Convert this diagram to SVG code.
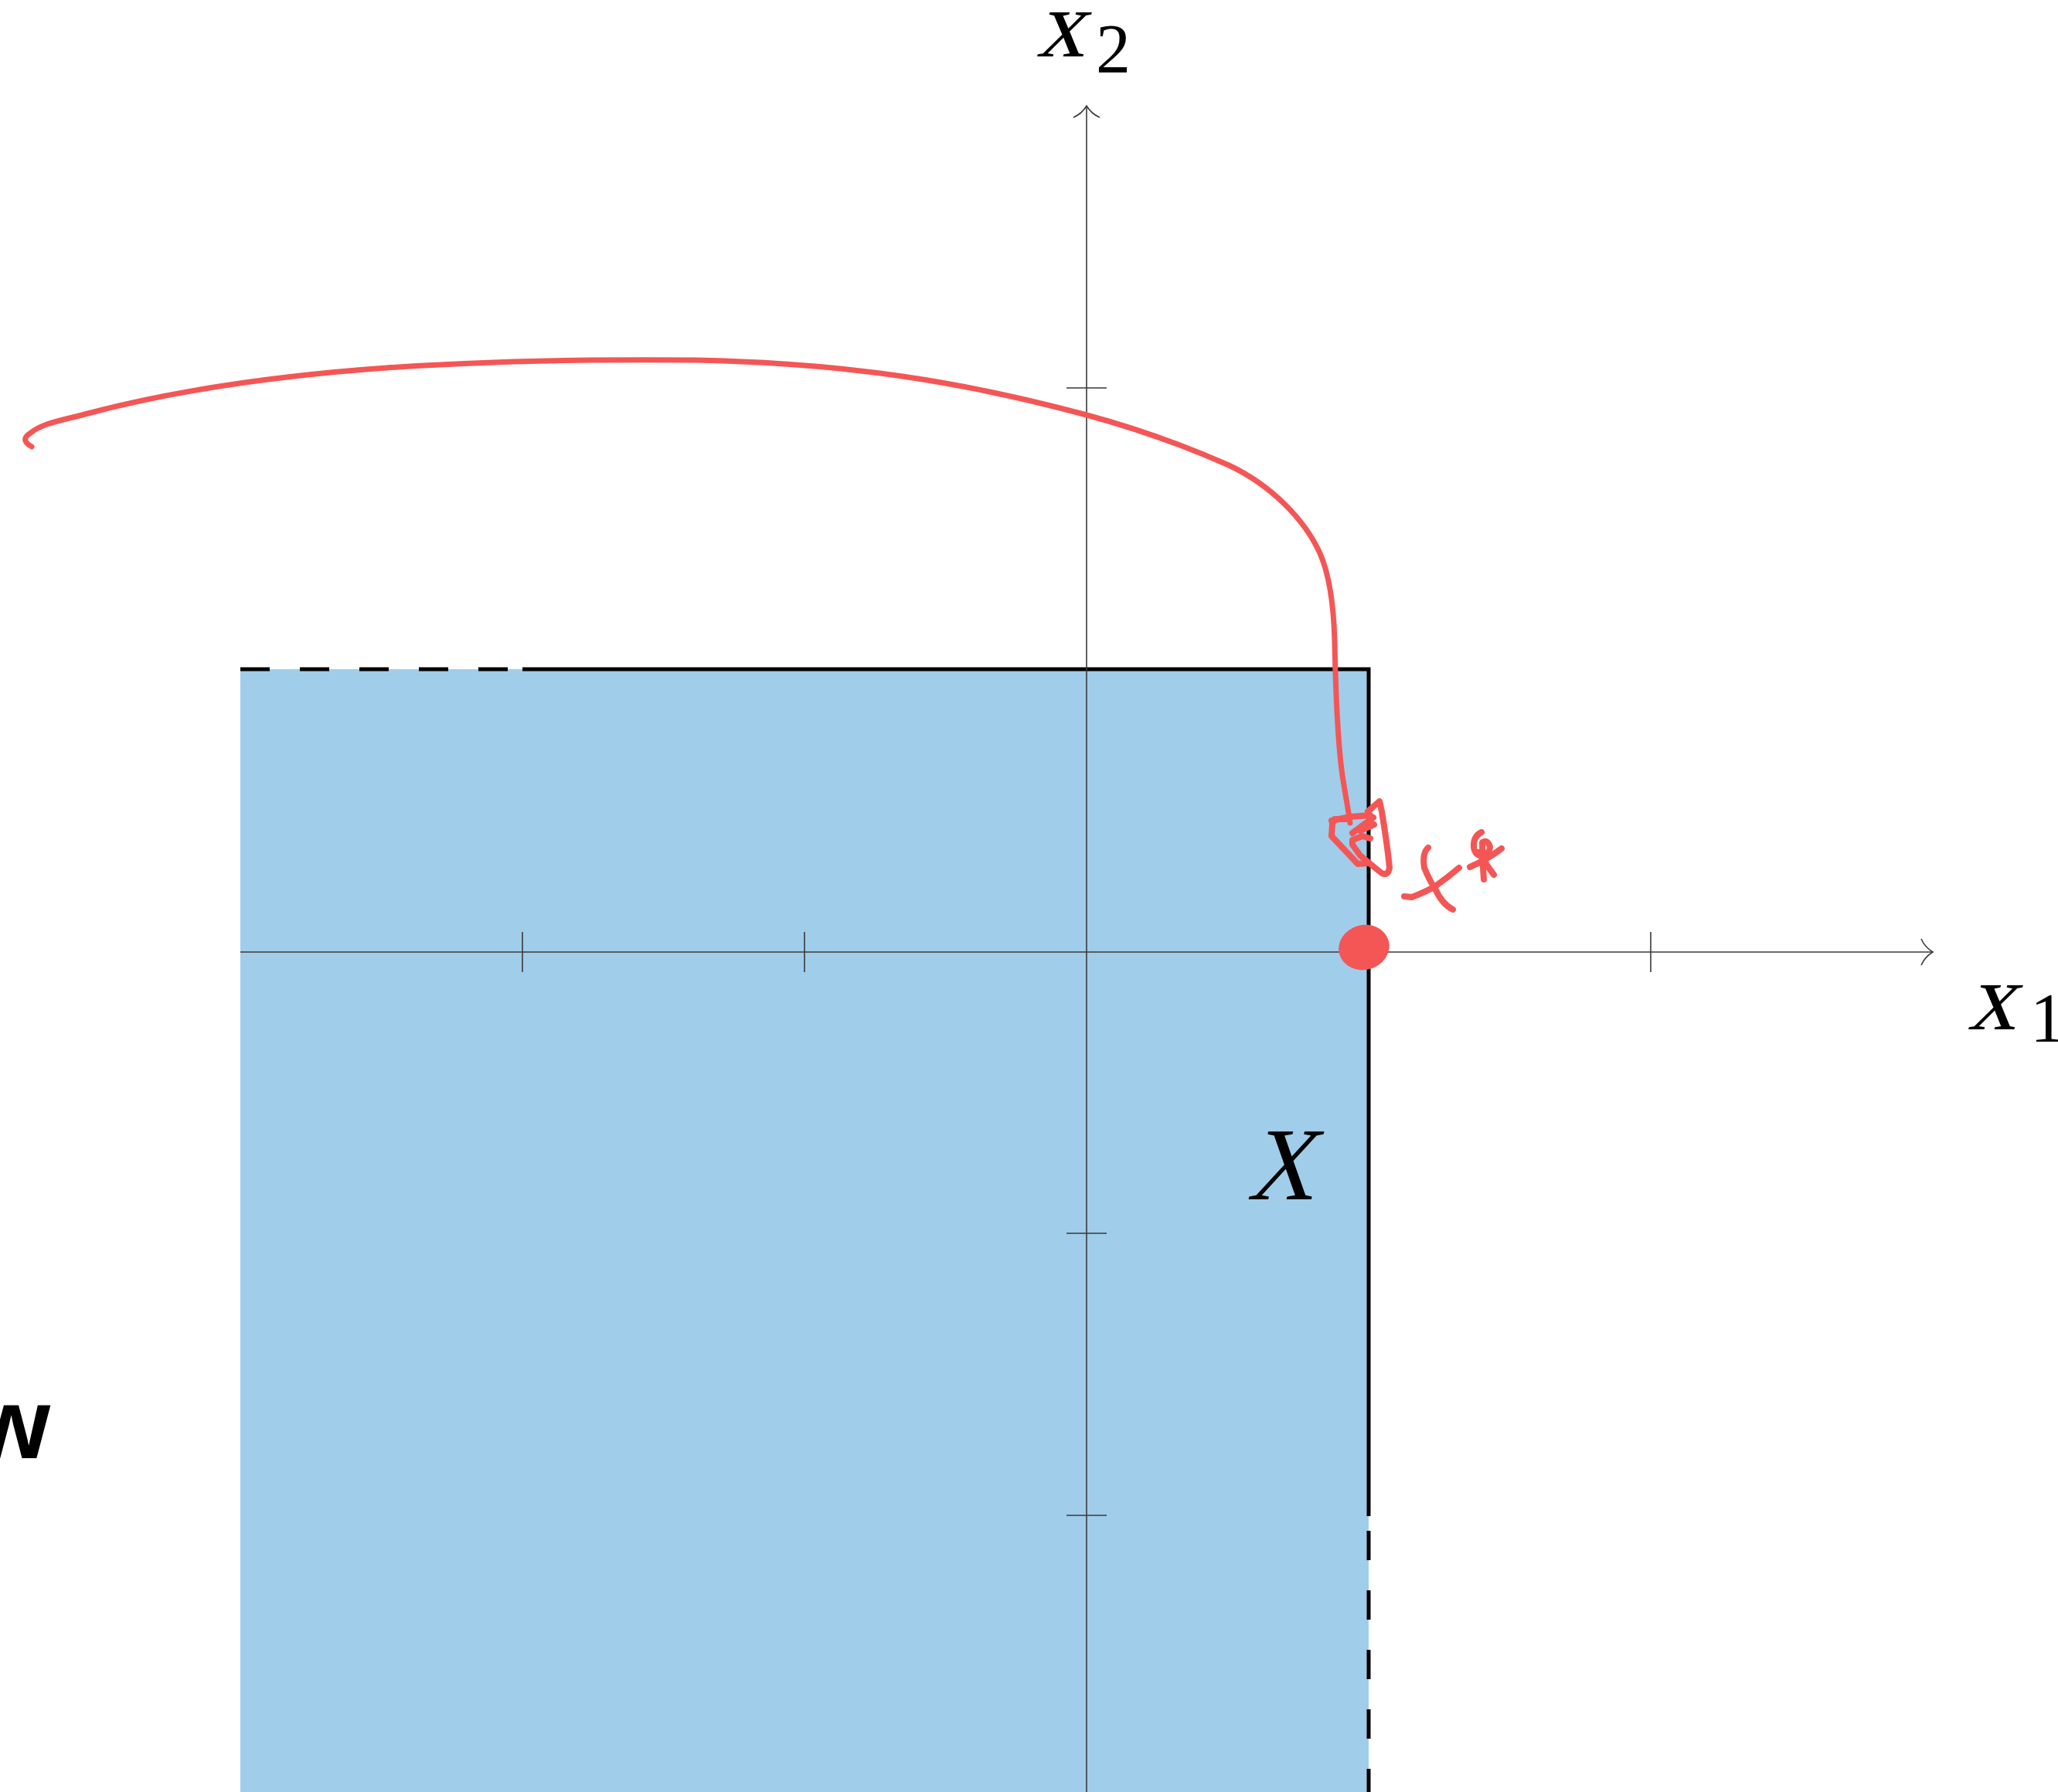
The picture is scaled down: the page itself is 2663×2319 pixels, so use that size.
<svg xmlns="http://www.w3.org/2000/svg" width="2663" height="2319" viewBox="0 0 2663 2319">
<style>
.axis{stroke:#3a3a3a;stroke-width:1.6;fill:none}
.edge{stroke:#000;stroke-width:5;fill:none}
.dash{stroke-dasharray:38 39}
.ink{stroke:#f45656;fill:none;stroke-linecap:round;stroke-linejoin:round}
.math{font-family:"Liberation Serif","Times New Roman",serif;fill:#000}
</style>
<rect width="2663" height="2319" fill="#fff"/>
<g id="region-X">
<rect x="311" y="866" width="1460" height="1453" fill="#a0cdea"/>
<path class="edge" d="M676 866 H1771 V1962"/>
<path class="edge dash" d="M657 866 H311"/>
<path class="edge dash" d="M1771 1981 V2319"/>
<text class="math" transform="translate(1613 1552) skewX(-14)" x="0" y="0" font-size="134" textLength="86" lengthAdjust="spacingAndGlyphs">X</text>
</g>
<g id="axes">
<path class="axis" d="M311 1232 H2501"/>
<path class="axis" d="M2486 1215 C2490 1224 2496 1229 2501 1232 C2496 1235 2490 1240 2486 1249"/>
<path class="axis" d="M1406 2319 V137"/>
<path class="axis" d="M1389 152 C1398 148 1403 142 1406 137 C1409 142 1414 148 1423 152"/>
<path class="axis" d="M676 1206 V1258 M1041 1206 V1258 M2136 1206 V1258"/>
<path class="axis" d="M1380 502 H1432 M1380 1596 H1432 M1380 1961 H1432"/>
</g>
<g id="label-x2">
<text class="math" transform="translate(1341 73) skewX(-14)" x="0" y="0" font-size="124">x</text>
<text class="math" x="1418" y="94" font-size="90">2</text>
</g>
<g id="label-x1">
<text class="math" transform="translate(2546 1332) skewX(-14)" x="0" y="0" font-size="124">x</text>
<text class="math" x="2627" y="1348" font-size="90">1</text>
</g>
<g id="label-w">
<text x="65" y="1887" font-family="Liberation Sans, Arial, sans-serif" font-weight="bold" font-size="130" text-anchor="end" fill="#000">w</text>
</g>
<g id="connectors">
<path class="ink" stroke-width="7" d="M41 578 C30 572 30 566 40 560 C55 548 75 545 110 536 C200 512 330 488 500 476 C650 466 800 465 900 466 C1100 470 1250 495 1406 537 C1480 557 1540 580 1590 602 C1645 628 1688 672 1708 716 C1722 748 1726 790 1727 830 C1728 880 1730 960 1738 1010 C1742 1035 1745 1050 1747 1065"/>
<g class="ink" stroke-width="8">
<path d="M1745 1060 L1727 1060 L1724 1066 L1723 1082 L1757 1118 L1770 1117"/>
<path d="M1723 1062 L1747 1057 L1773 1055"/>
<path d="M1770 1050 L1785 1037 L1788 1050 Q1796 1100 1798 1123 Q1796 1134 1788 1130 L1778 1122 L1760 1107 L1750 1093 L1750 1087 L1763 1082 L1773 1085"/>
<path d="M1750 1078 L1777 1058 M1760 1075 L1778 1067"/>
<path d="M1848 1097 Q1840 1104 1843 1123 Q1850 1140 1857 1150 Q1866 1170 1880 1177"/>
<path d="M1817 1160 L1827 1161 Q1845 1154 1857 1147 Q1874 1135 1888 1123"/>
<path d="M1917 1077 Q1906 1082 1907 1097 Q1909 1107 1918 1108 Q1928 1104 1928 1096 Q1925 1086 1918 1090 Q1918 1115 1920 1138"/>
<path d="M1902 1122 Q1925 1112 1943 1098 M1913 1103 Q1924 1120 1933 1132"/>
</g>
<ellipse cx="1765" cy="1226" rx="33" ry="29" fill="#f45656" transform="rotate(-15 1765 1226)"/>
</g>
</svg>
